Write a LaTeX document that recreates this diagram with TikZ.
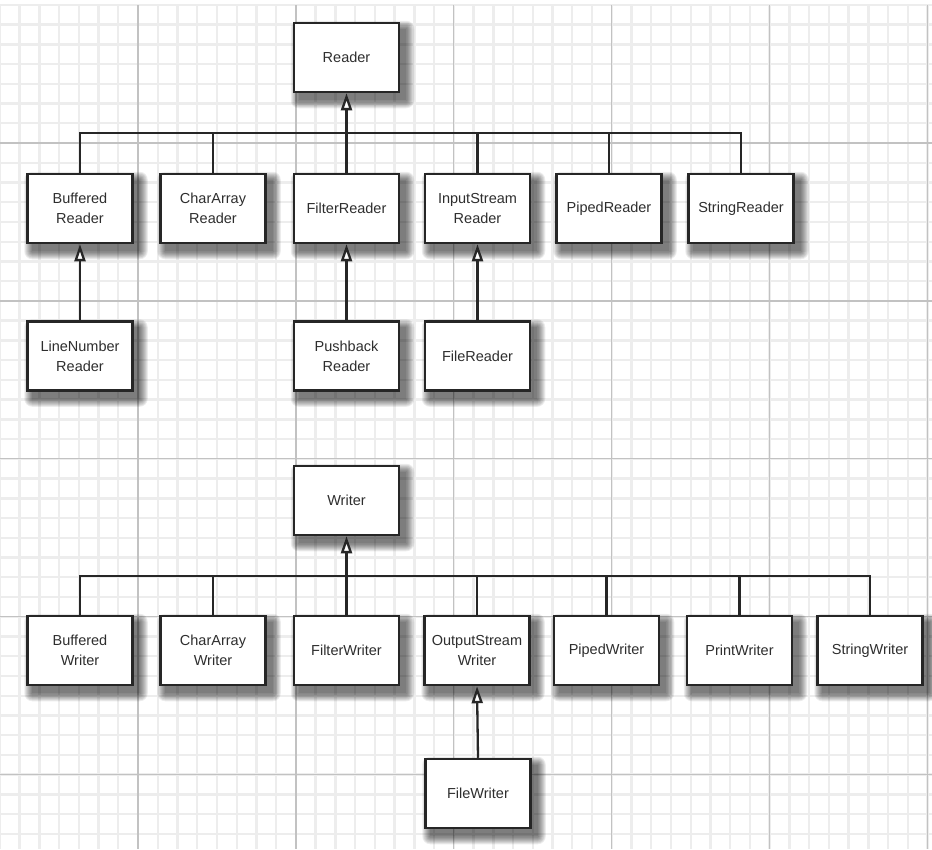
\documentclass[tikz,border=0pt]{standalone}
\usepackage{fontspec}
\setmainfont{Liberation Sans}
\usetikzlibrary{arrows.meta}
\pgfdeclarelayer{paper}
\pgfdeclarelayer{shade}
\pgfsetlayers{paper,shade,main}

\begin{document}
\begin{tikzpicture}[
  x=1pt,y=-1pt,
  font=\fontsize{14.5}{20}\selectfont,
  cls/.style={draw=black!85,line width=2.5pt,fill=white,text=black!82,
    align=center,minimum width=105pt,minimum height=69pt,inner sep=0pt},
  link/.style={draw=black!85,line width=2.3pt},
  isa/.style={link,-{Triangle[length=17pt,width=11pt,fill=white]}},
  shadelayer/.style={fill=black,opacity=0.075},
  minorline/.style={line width=2.4pt,black!7},
  majorline/.style={line width=1.3pt,black!24}]
\path[use as bounding box] (0,0) rectangle (932,849);
\begin{pgfonlayer}{paper}
\fill[white] (0,0) rectangle (932,849);
% squared paper
\foreach \k in {-7,...,40}
  \draw[minorline] ({138+19.74*\k},5) -- ({138+19.74*\k},849);
\foreach \k in {-7,...,35}
  \draw[minorline] (0,{143+19.74*\k}) -- (932,{143+19.74*\k});
\foreach \k in {0,...,5}
  \draw[majorline] ({138+157.9*\k},5) -- ({138+157.9*\k},849);
\foreach \k in {0,...,4}
  \draw[majorline] (0,{143+157.9*\k}) -- (932,{143+157.9*\k});
\end{pgfonlayer}

% readers
\node[cls] (reader) at (346.5,57.5) {Reader};
\node[cls] (bufr) at (80,208.5) {Buffered\\Reader};
\node[cls] (charr) at (213,208.5) {CharArray\\Reader};
\node[cls] (filr) at (346.5,208.5) {FilterReader};
\node[cls] (isr) at (477.5,208.5) {InputStream\\Reader};
\node[cls] (pipr) at (609,208.5) {PipedReader};
\node[cls] (strr) at (741,208.5) {StringReader};
\node[cls] (lnr) at (80,356) {LineNumber\\Reader};
\node[cls] (pbr) at (346.5,356) {Pushback\\Reader};
\node[cls] (filer) at (477.5,356) {FileReader};
\coordinate (rbus) at (346.5,133);
\draw[link] (bufr.north) |- (rbus) -| (strr.north);
\draw[link] (charr.north) -- (charr.north |- rbus);
\draw[link] (isr.north) -- (isr.north |- rbus);
\draw[link] (pipr.north) -- (pipr.north |- rbus);
\draw[isa] (filr.north) -- (reader.south);
\draw[isa] (lnr.north) -- (bufr.south);
\draw[isa] (pbr.north) -- (filr.south);
\draw[isa] (filer.north) -- (isr.south);

% writers
\node[cls] (writer) at (346.5,500.5) {Writer};
\node[cls] (bufw) at (80,650.5) {Buffered\\Writer};
\node[cls] (charw) at (213,650.5) {CharArray\\Writer};
\node[cls] (filw) at (346.5,650.5) {FilterWriter};
\node[cls] (osw) at (477,650.5) {OutputStream\\Writer};
\node[cls] (pipw) at (606.5,650.5) {PipedWriter};
\node[cls] (prw) at (739.5,650.5) {PrintWriter};
\node[cls] (strw) at (870,650.5) {StringWriter};
\node[cls] (filew) at (478,793.5) {FileWriter};
\coordinate (wbus) at (346.5,576);
\draw[link] (bufw.north) |- (wbus) -| (strw.north);
\draw[link] (charw.north) -- (charw.north |- wbus);
\draw[link] (osw.north) -- (osw.north |- wbus);
\draw[link] (pipw.north) -- (pipw.north |- wbus);
\draw[link] (prw.north) -- (prw.north |- wbus);
\draw[isa] (filw.north) -- (writer.south);
\draw[isa] (filew.north) -- (osw.south);

% soft drop shadows
\begin{pgfonlayer}{shade}
\foreach \n in {reader,bufr,charr,filr,isr,pipr,strr,lnr,pbr,filer,
    writer,bufw,charw,filw,osw,pipw,prw,strw,filew}
  \foreach \s in {0,...,8}
    \fill[shadelayer,rounded corners=\s pt]
      ([shift={(6-\s,7-\s)}]\n.north west) rectangle
      ([shift={(6+\s,7+\s)}]\n.south east);
\end{pgfonlayer}
\end{tikzpicture}
\end{document}
